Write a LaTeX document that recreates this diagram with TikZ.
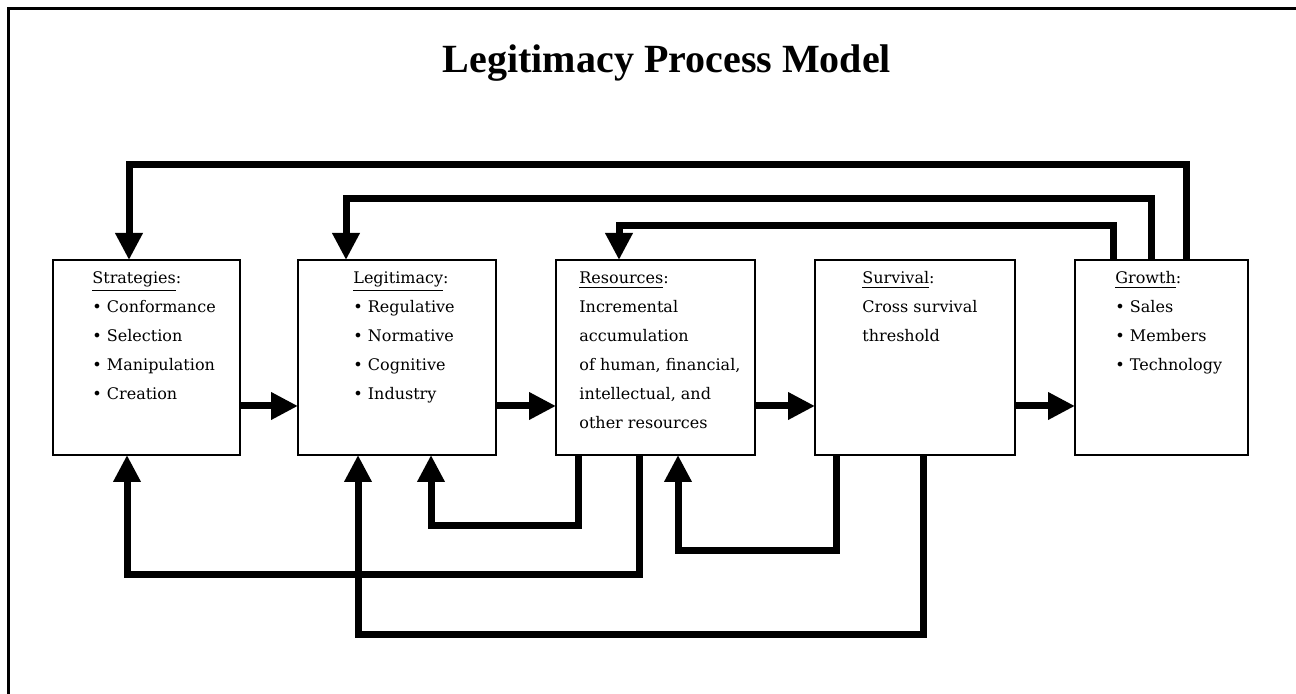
\documentclass[tikz,border=0pt]{standalone}
\usepackage{fontspec}
\setmainfont{DejaVu Serif}
\newfontfamily\titlefont{Liberation Serif}
\usetikzlibrary{arrows.meta,positioning,calc}
\tikzset{
  stage/.style={draw, line width=1pt, minimum height=97.5pt, inner sep=0pt, outer sep=0pt},
  flow/.style={line width=3.5pt, -{Triangle[length=13.5pt,width=13pt]}},
  entry/.style={anchor=base west, inner sep=0pt, font=\fontsize{8}{10}\selectfont},
}
% lines of text in a stage box: box, left offset, list of lines
\newcommand\stagetext[3]{
  \foreach \t [count=\k] in {#3}
  {
    \node[entry] (#1\k) at ($(#1.north west)+(#2,5-29*\k)$) {\t};
  }
}

\begin{document}
\begin{tikzpicture}[x=0.5pt, y=0.5pt]
\useasboundingbox (0,0) rectangle (1296,694);
\draw[line width=1.5pt] (8.5,0) -- (8.5,685.5) -- (1296,685.5);
\node[font=\titlefont\bfseries\fontsize{20}{24}\selectfont, anchor=base] (title) at (667,621) {Legitimacy Process Model};

\node[stage, minimum width=93.5pt] (s) at (146.5,336.5) {};
\node[stage, minimum width=99pt, right=29pt of s] (l) {};
\node[stage, minimum width=99.5pt, right=30pt of l] (r) {};
\node[stage, minimum width=100pt, right=30pt of r] (v) {};
\node[stage, minimum width=86.5pt, right=30pt of v] (g) {};

\stagetext{s}{39}{\underline{Strategies}:, • Conformance, • Selection, • Manipulation, • Creation}
\stagetext{l}{55}{\underline{Legitimacy}:, • Regulative, • Normative, • Cognitive, • Industry}
\stagetext{r}{23}{\underline{Resources}:, Incremental, accumulation, {of human, financial,}, {intellectual, and}, other resources}
\stagetext{v}{47}{\underline{Survival}:, Cross survival, threshold}
\stagetext{g}{40}{\underline{Growth}:, • Sales, • Members, • Technology}

\coordinate (fwd) at (0,288);
\foreach \a/\b in {s/l,l/r,r/v,v/g}
  \draw[flow] (\a.east |- fwd) -- (\b.west |- fwd);

% feedback over the top
\draw[flow] ([xshift=12.25pt]g.north) -- ++(0,95) -| ([xshift=-8.75pt]s.north);
\draw[flow] ([xshift=-5.25pt]g.north) -- ++(0,61) -| ([xshift=-25.5pt]l.north);
\draw[flow] ([xshift=-24.25pt]g.north) -- ++(0,34) -| ([xshift=-18.25pt]r.north);

% feedback underneath
\draw[flow] ([xshift=-38.75pt]r.south) -- ++(0,-71) -| ([xshift=17pt]l.south);
\draw[flow] ([xshift=-8.25pt]r.south) -- ++(0,-120) -| ([xshift=-9.75pt]s.south);
\draw[flow] ([xshift=-39.5pt]v.south) -- ++(0,-96) -| ([xshift=11.25pt]r.south);
\draw[flow] ([xshift=4pt]v.south) -- ++(0,-180) -| ([xshift=-19.5pt]l.south);
\end{tikzpicture}
\end{document}
